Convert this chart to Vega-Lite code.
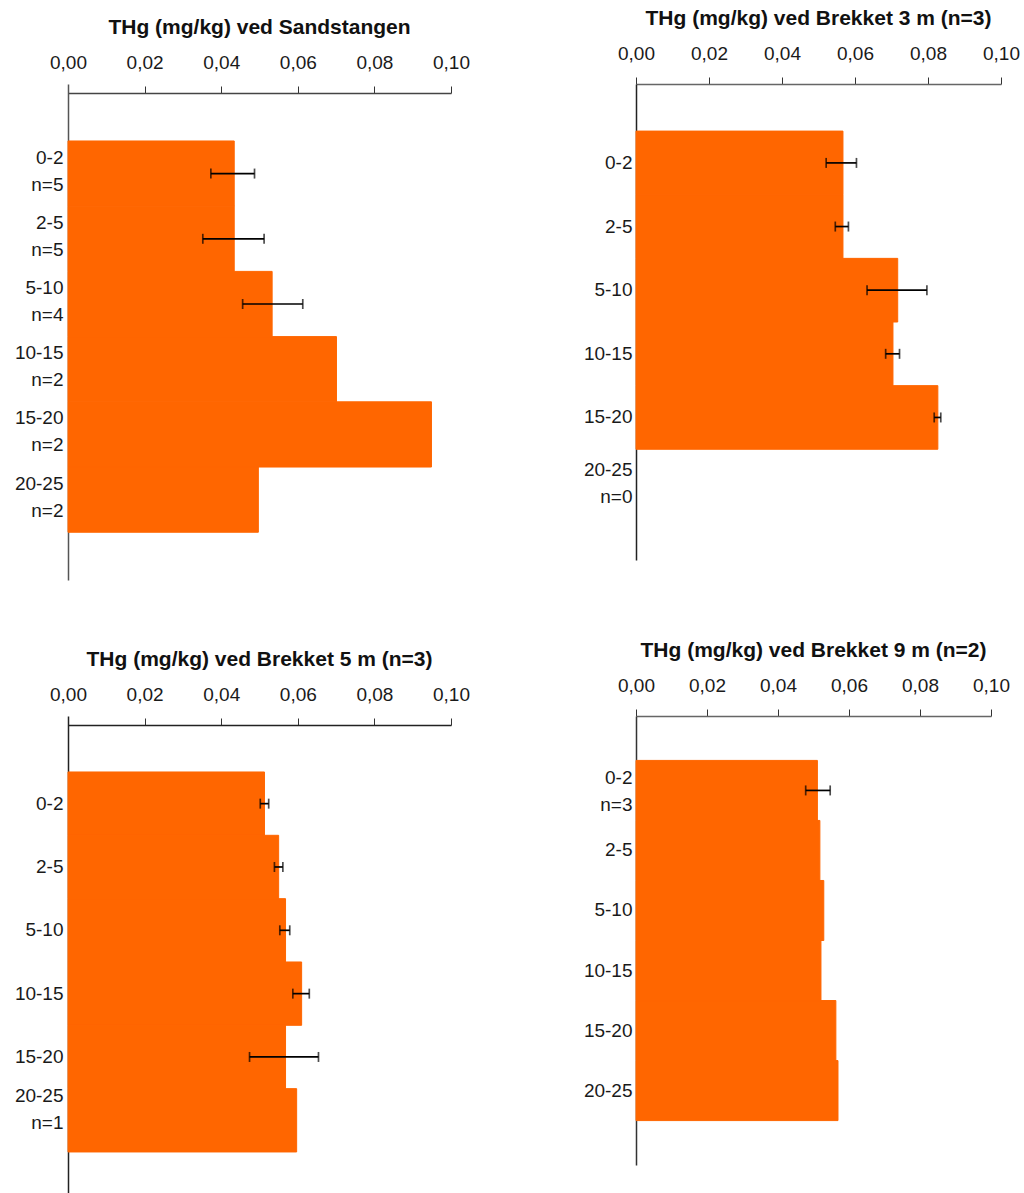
{
  "$schema": "https://vega.github.io/schema/vega-lite/v6.json",
  "padding": {"left": 14, "top": 8, "right": 0, "bottom": 0},
  "background": "white",
  "config": {
    "view": {"stroke": null},
    "font": "Liberation Sans",
    "title": {"font": "Liberation Sans", "fontSize": 21, "fontWeight": "bold", "color": "#111111", "offset": 15, "anchor": "middle", "frame": "group"},
    "axis": {"labelFont": "Liberation Sans", "labelFontSize": 19, "labelColor": "#1a1a1a", "grid": false, "title": null},
    "bar": {"color": "#FF6600", "stroke": "#FF6600", "strokeWidth": 1}
  },
  "datasets": {
    "p1": [
      {"label": "0-2|n=5", "value": 0.0434, "lo": 0.0373, "hi": 0.0487},
      {"label": "2-5|n=5", "value": 0.0434, "lo": 0.0352, "hi": 0.0512},
      {"label": "5-10|n=4", "value": 0.0533, "lo": 0.0456, "hi": 0.0613},
      {"label": "10-15|n=2", "value": 0.0701},
      {"label": "15-20|n=2", "value": 0.0949},
      {"label": "20-25|n=2", "value": 0.0497}
    ],
    "p2": [
      {"label": "0-2", "value": 0.0567, "lo": 0.0521, "hi": 0.0604},
      {"label": "2-5", "value": 0.0567, "lo": 0.0546, "hi": 0.0582},
      {"label": "5-10", "value": 0.0717, "lo": 0.0633, "hi": 0.0797},
      {"label": "10-15", "value": 0.0704, "lo": 0.0684, "hi": 0.0722},
      {"label": "15-20", "value": 0.0827, "lo": 0.0817, "hi": 0.0835},
      {"label": "20-25|n=0"}
    ],
    "p3": [
      {"label": "0-2", "value": 0.0513, "lo": 0.0502, "hi": 0.0524},
      {"label": "2-5", "value": 0.0550, "lo": 0.0539, "hi": 0.0561},
      {"label": "5-10", "value": 0.0568, "lo": 0.0553, "hi": 0.0579},
      {"label": "10-15", "value": 0.0610, "lo": 0.0587, "hi": 0.0630},
      {"label": "15-20", "value": 0.0568, "lo": 0.0474, "hi": 0.0654},
      {"label": "20-25|n=1", "value": 0.0597}
    ],
    "p4": [
      {"label": "0-2|n=3", "value": 0.0511, "lo": 0.0478, "hi": 0.0547},
      {"label": "2-5", "value": 0.0518},
      {"label": "5-10", "value": 0.0529},
      {"label": "10-15", "value": 0.0521},
      {"label": "15-20", "value": 0.0563},
      {"label": "20-25", "value": 0.0569}
    ]
  },
  "columns": 2,
  "spacing": {"row": 60, "column": 113},
  "concat": [
    {
      "title": {"text": "THg (mg/kg) ved Sandstangen"},
      "width": 383, "height": 496,
      "data": {"name": "p1"},
      "encoding": {
        "y": {"field": "label", "type": "nominal", "sort": null,
          "scale": {"domain": ["0-2|n=5", "2-5|n=5", "5-10|n=4", "10-15|n=2", "15-20|n=2", "20-25|n=2"], "paddingInner": 0, "paddingOuter": 0.803, "align": 0.544},
          "axis": {"labelExpr": "split(datum.value, '|')", "labelLineHeight": 27, "labelOffset": {"condition": {"test": "indexof(datum.value, '|') >= 0", "value": -16}, "value": 0}, "ticks": false, "tickSize": 0, "labelPadding": 5, "domainColor": "#555555", "domainWidth": 1.5}}
      },
      "layer": [
        {"mark": {"type": "bar"},
          "encoding": {"x": {"field": "value", "type": "quantitative", "scale": {"domain": [0, 0.1], "nice": false},
            "axis": {"orient": "top", "offset": -9, "values": [0, 0.02, 0.04, 0.06, 0.08, 0.1], "labelExpr": "replace(format(datum.value, '.2f'), '.', ',')", "tickSize": 7, "tickColor": "#333333", "domainColor": "#444444", "domainWidth": 1.5, "labelPadding": 14, "labelFlush": false}}}},
        {"transform": [{"filter": "datum.lo != null"}], "mark": {"type": "rule", "color": "black", "strokeWidth": 1.7},
          "encoding": {"x": {"field": "lo", "type": "quantitative"}, "x2": {"field": "hi"}}},
        {"transform": [{"filter": "datum.lo != null"}], "mark": {"type": "tick", "color": "black", "size": 10, "thickness": 1.7},
          "encoding": {"x": {"field": "lo", "type": "quantitative"}}},
        {"transform": [{"filter": "datum.lo != null"}], "mark": {"type": "tick", "color": "black", "size": 10, "thickness": 1.7},
          "encoding": {"x": {"field": "hi", "type": "quantitative"}}}
      ]
    },
    {
      "title": {"text": "THg (mg/kg) ved Brekket 3 m (n=3)"},
      "width": 365, "height": 476,
      "data": {"name": "p2"},
      "encoding": {
        "y": {"field": "label", "type": "nominal", "sort": null,
          "scale": {"domain": ["0-2", "2-5", "5-10", "10-15", "15-20", "20-25|n=0"], "paddingInner": 0, "paddingOuter": 0.74},
          "axis": {"labelExpr": "split(datum.value, '|')", "labelLineHeight": 27, "labelOffset": {"condition": {"test": "indexof(datum.value, '|') >= 0", "value": -11}, "value": 0}, "ticks": false, "tickSize": 0, "labelPadding": 4, "domainColor": "#222222", "domainWidth": 1.5}}
      },
      "layer": [
        {"mark": {"type": "bar"},
          "encoding": {"x": {"field": "value", "type": "quantitative", "scale": {"domain": [0, 0.1], "nice": false},
            "axis": {"orient": "top", "values": [0, 0.02, 0.04, 0.06, 0.08, 0.1], "labelExpr": "replace(format(datum.value, '.2f'), '.', ',')", "tickSize": 7, "tickColor": "#333333", "domainColor": "#666666", "domainWidth": 1.5, "labelPadding": 14, "labelFlush": false}}}},
        {"transform": [{"filter": "datum.lo != null"}], "mark": {"type": "rule", "color": "black", "strokeWidth": 1.7},
          "encoding": {"x": {"field": "lo", "type": "quantitative"}, "x2": {"field": "hi"}}},
        {"transform": [{"filter": "datum.lo != null"}], "mark": {"type": "tick", "color": "black", "size": 10, "thickness": 1.7},
          "encoding": {"x": {"field": "lo", "type": "quantitative"}}},
        {"transform": [{"filter": "datum.lo != null"}], "mark": {"type": "tick", "color": "black", "size": 10, "thickness": 1.7},
          "encoding": {"x": {"field": "hi", "type": "quantitative"}}}
      ]
    },
    {
      "title": {"text": "THg (mg/kg) ved Brekket 5 m (n=3)"},
      "width": 383, "height": 477,
      "data": {"name": "p3"},
      "encoding": {
        "y": {"field": "label", "type": "nominal", "sort": null,
          "scale": {"domain": ["0-2", "2-5", "5-10", "10-15", "15-20", "20-25|n=1"], "paddingInner": 0, "paddingOuter": 0.766, "align": 0.577},
          "axis": {"labelExpr": "split(datum.value, '|')", "labelLineHeight": 27, "labelOffset": {"condition": {"test": "indexof(datum.value, '|') >= 0", "value": -24}, "value": 0}, "ticks": false, "tickSize": 0, "labelPadding": 5, "domainColor": "#222222", "domainWidth": 1.5}}
      },
      "layer": [
        {"mark": {"type": "bar"},
          "encoding": {"x": {"field": "value", "type": "quantitative", "scale": {"domain": [0, 0.1], "nice": false},
            "axis": {"orient": "top", "offset": -9, "values": [0, 0.02, 0.04, 0.06, 0.08, 0.1], "labelExpr": "replace(format(datum.value, '.2f'), '.', ',')", "tickSize": 7, "tickColor": "#333333", "domainColor": "#222222", "domainWidth": 1.5, "labelPadding": 14, "labelFlush": false}}}},
        {"transform": [{"filter": "datum.lo != null"}], "mark": {"type": "rule", "color": "black", "strokeWidth": 1.7},
          "encoding": {"x": {"field": "lo", "type": "quantitative"}, "x2": {"field": "hi"}}},
        {"transform": [{"filter": "datum.lo != null"}], "mark": {"type": "tick", "color": "black", "size": 10, "thickness": 1.7},
          "encoding": {"x": {"field": "lo", "type": "quantitative"}}},
        {"transform": [{"filter": "datum.lo != null"}], "mark": {"type": "tick", "color": "black", "size": 10, "thickness": 1.7},
          "encoding": {"x": {"field": "hi", "type": "quantitative"}}}
      ]
    },
    {
      "title": {"text": "THg (mg/kg) ved Brekket 9 m (n=2)"},
      "width": 355, "height": 449,
      "data": {"name": "p4"},
      "encoding": {
        "y": {"field": "label", "type": "nominal", "sort": null,
          "scale": {"domain": ["0-2|n=3", "2-5", "5-10", "10-15", "15-20", "20-25"], "paddingInner": 0, "paddingOuter": 0.74},
          "axis": {"labelExpr": "split(datum.value, '|')", "labelLineHeight": 27, "labelOffset": {"condition": {"test": "indexof(datum.value, '|') >= 0", "value": -12}, "value": 0}, "ticks": false, "tickSize": 0, "labelPadding": 4, "domainColor": "#333333", "domainWidth": 1.5}}
      },
      "layer": [
        {"mark": {"type": "bar"},
          "encoding": {"x": {"field": "value", "type": "quantitative", "scale": {"domain": [0, 0.1], "nice": false},
            "axis": {"orient": "top", "values": [0, 0.02, 0.04, 0.06, 0.08, 0.1], "labelExpr": "replace(format(datum.value, '.2f'), '.', ',')", "tickSize": 7, "tickColor": "#333333", "domainColor": "#666666", "domainWidth": 1.5, "labelPadding": 14, "labelFlush": false}}}},
        {"transform": [{"filter": "datum.lo != null"}], "mark": {"type": "rule", "color": "black", "strokeWidth": 1.7},
          "encoding": {"x": {"field": "lo", "type": "quantitative"}, "x2": {"field": "hi"}}},
        {"transform": [{"filter": "datum.lo != null"}], "mark": {"type": "tick", "color": "black", "size": 10, "thickness": 1.7},
          "encoding": {"x": {"field": "lo", "type": "quantitative"}}},
        {"transform": [{"filter": "datum.lo != null"}], "mark": {"type": "tick", "color": "black", "size": 10, "thickness": 1.7},
          "encoding": {"x": {"field": "hi", "type": "quantitative"}}}
      ]
    }
  ]
}
